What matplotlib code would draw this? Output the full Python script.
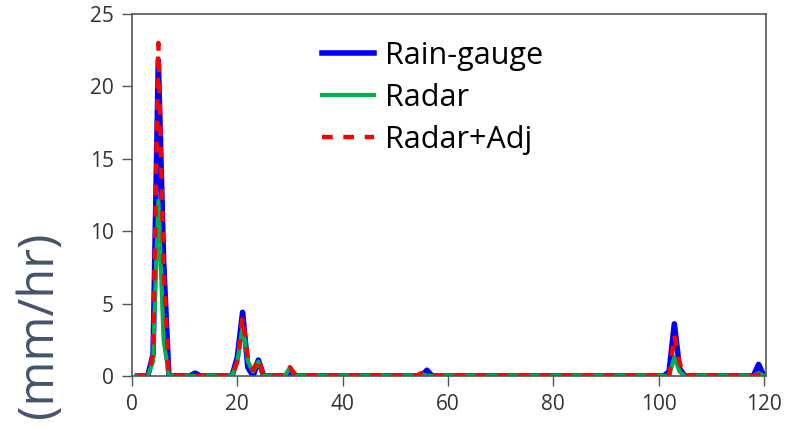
import numpy as np
import matplotlib.pyplot as plt

# hourly series, hours 1..120 (zero except the events below)
hours = np.arange(1, 121)
gauge_events = {4: 1.5, 5: 21.8, 6: 8.0, 12: 0.2, 20: 1.3, 21: 4.4, 22: 0.6, 24: 1.1,
                30: 0.2, 56: 0.4, 102: 0.3, 103: 3.6, 104: 0.5, 119: 0.8}
radar_events = {4: 1.0, 5: 12.1, 6: 2.5, 20: 1.0, 21: 3.4, 22: 1.0, 23: 0.3, 24: 1.0,
                30: 0.6, 55: 0.15, 103: 1.3, 104: 0.3, 119: 0.2}
adj_events = {4: 1.5, 5: 23.0, 6: 7.5, 20: 1.0, 21: 4.1, 22: 1.2, 23: 0.4, 24: 1.2,
              30: 0.6, 31: 0.1, 55: 0.2, 103: 2.8, 104: 0.9, 119: 0.1}

def series(ev):
    v = np.zeros(len(hours))
    for h, val in ev.items():
        v[h - 1] = val
    return v

gauge = series(gauge_events)
radar = series(radar_events)
adj = series(adj_events)

fig = plt.figure(figsize=(7.89, 4.30), dpi=100)
ax = fig.add_axes([0.1673, 0.1256, 0.8035, 0.8418])

ax.plot(hours, gauge, color='#0000ff', lw=4.0, solid_joinstyle='round', label='Rain-gauge')
ax.plot(hours, radar, color='#00b050', lw=3.0, solid_joinstyle='round', label='Radar')
ax.plot(hours, adj, color='#ff0000', lw=3.2, ls=(0, (2.4, 2.4)), label='Radar+Adj')

ax.set_xlim(0, 120.4)
ax.set_ylim(0, 25)
ax.set_xticks(range(0, 121, 20))
ax.set_yticks(range(0, 26, 5))
for s in ax.spines.values():
    s.set_color('#555555')
    s.set_linewidth(1.2)
ax.tick_params(direction='out', length=7, width=1, color='#555555',
               labelsize=15, labelcolor='#333333', pad=6)
for lab in ax.get_xticklabels() + ax.get_yticklabels():
    lab.set_family('Open Sans')

leg = ax.legend(loc='upper left', bbox_to_anchor=(0.281, 0.96), frameon=False,
                prop={'family': 'Open Sans', 'size': 22}, handlelength=1.7,
                handletextpad=0.35, labelspacing=0.4, borderaxespad=0)

fig.text(0.05, 0.245, '(mm/hr)', rotation=90, ha='center', va='center',
         fontsize=35, color='#44546a', family='Open Sans')

plt.savefig('out.png')
